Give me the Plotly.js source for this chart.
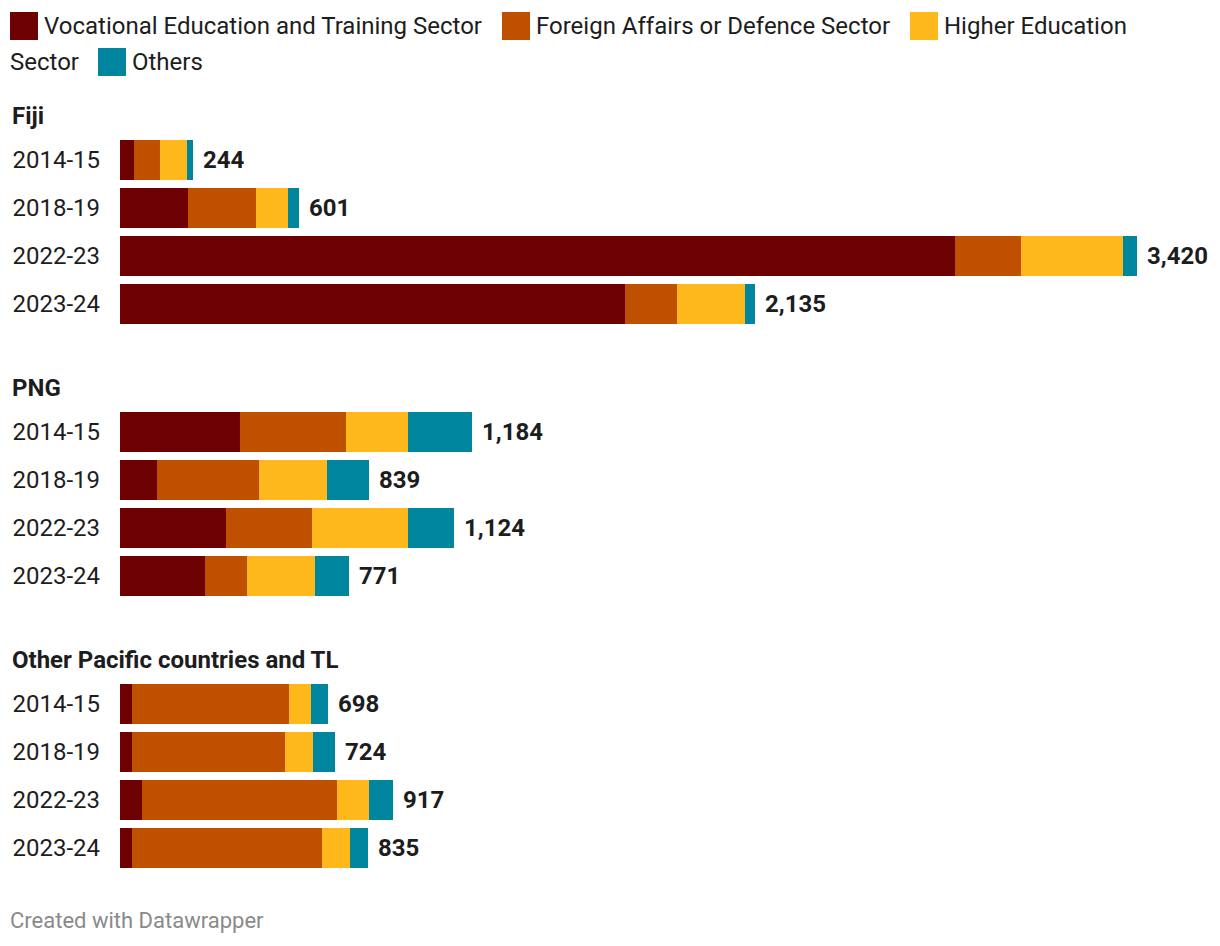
<!DOCTYPE html>
<html>
<head>
<meta charset="utf-8">
<script src="https://cdn.plot.ly/plotly-3.0.1.min.js"></script>
<style>html,body{margin:0;padding:0;background:#fff;}#chart{width:1220px;height:946px;}</style>
</head>
<body>
<div id="chart"></div>
<script>
// ---- data ----
const groups = ['Fiji', 'PNG', 'Other Pacific countries and TL'];
const years = ['2014-15', '2018-19', '2022-23', '2023-24'];
const seriesNames = ['Vocational Education and Training Sector', 'Foreign Affairs or Defence Sector', 'Higher Education Sector', 'Others'];
const vocational = [[48, 229, 2808, 1698], [405, 123, 358, 285], [40, 40, 74, 40]];
const foreignAffairs = [[88, 229, 222, 175], [356, 345, 289, 142], [530, 516, 655, 641]];
const higherEducation = [[88, 108, 343, 228], [208, 229, 322, 230], [74, 94, 107, 94]];
const others = [[20, 35, 47, 34], [215, 142, 155, 114], [54, 74, 81, 60]];

// ---- styling ----
const colors = ['#6d0000', '#bf5000', '#feb81c', '#00859e'];
const W = 1220, H = 946, L = 120;
const px = x => (x - L) / (W - L);
const py = y => 1 - y / H;
const FONT = 'Roboto, "Noto Sans", sans-serif';
const TXT = '#1d1d1d';

const series = [vocational, foreignAffairs, higherEducation, others];
const domainsPx = [[136, 328], [408, 600], [680, 872]];
const headerY = [116, 388, 660];

const traces = [];
const annotations = [];
const shapes = [];
const layout = {
  width: W, height: H,
  margin: {l: L, r: 0, t: 0, b: 0, pad: 0},
  paper_bgcolor: '#fff', plot_bgcolor: '#fff',
  barmode: 'stack', bargap: 8 / 48,
  showlegend: false,
  font: {family: FONT, color: TXT, size: 24},
  annotations: annotations, shapes: shapes
};

groups.forEach((g, gi) => {
  const sfx = gi === 0 ? '' : String(gi + 1);
  const xa = 'x' + sfx, ya = 'y' + sfx;
  series.forEach((s, si) => {
    traces.push({
      type: 'bar', orientation: 'h',
      x: s[gi], y: years,
      xaxis: xa, yaxis: ya,
      name: seriesNames[si],
      marker: {color: colors[si], line: {width: 0}},
      hoverinfo: 'x+name'
    });
  });
  layout['xaxis' + sfx] = {
    domain: [0, 1], range: [0, 3700], anchor: ya,
    visible: false, fixedrange: true
  };
  const d = domainsPx[gi];
  layout['yaxis' + sfx] = {
    domain: [py(d[1]), py(d[0])], anchor: xa,
    type: 'category', categoryorder: 'array', categoryarray: years,
    autorange: 'reversed', showgrid: false, zeroline: false, showline: false,
    ticks: '', ticklabelstandoff: 19,
    tickfont: {family: FONT, size: 24, color: TXT}, fixedrange: true
  };
  // group header
  annotations.push({
    xref: 'paper', yref: 'paper', x: px(10), y: py(headerY[gi]),
    xanchor: 'left', yanchor: 'middle', showarrow: false,
    text: '<b>' + g + '</b>', font: {family: FONT, size: 24, color: TXT}
  });
  // totals
  years.forEach((yr, yi) => {
    const total = series.reduce((acc, s) => acc + s[gi][yi], 0);
    annotations.push({
      xref: xa, yref: ya, x: total, y: yr,
      xanchor: 'left', yanchor: 'middle', showarrow: false, xshift: 8,
      text: '<b>' + total.toLocaleString('en-US') + '</b>',
      font: {family: FONT, size: 24, color: TXT}
    });
  });
});

// ---- legend (manual, datawrapper-style wrapping) ----
const legendFont = {family: FONT, size: 24, color: TXT};
function legendSquare(x0, yc, color) {
  shapes.push({type: 'rect', xref: 'paper', yref: 'paper',
    x0: px(x0), x1: px(x0 + 28), y0: py(yc + 14), y1: py(yc - 14),
    fillcolor: color, line: {width: 0}});
}
function legendText(x, yc, t) {
  annotations.push({xref: 'paper', yref: 'paper', x: px(x), y: py(yc),
    xanchor: 'left', yanchor: 'middle', showarrow: false, text: t, font: legendFont});
}
const l1 = 26, l2 = 62;
legendSquare(10, l1, colors[0]); legendText(42, l1, seriesNames[0]);
legendSquare(502, l1, colors[1]); legendText(534, l1, seriesNames[1]);
const he = seriesNames[2], cut = he.lastIndexOf(' ');
legendSquare(910, l1, colors[2]); legendText(942, l1, he.slice(0, cut));
legendText(8, l2, he.slice(cut + 1));
legendSquare(98, l2, colors[3]); legendText(130, l2, seriesNames[3]);

// footer
annotations.push({xref: 'paper', yref: 'paper', x: px(8), y: py(920),
  xanchor: 'left', yanchor: 'middle', showarrow: false,
  text: 'Created with Datawrapper', font: {family: FONT, size: 22, color: '#8a8a8a'}});

Plotly.newPlot('chart', traces, layout, {displayModeBar: false, staticPlot: true});
</script>
</body>
</html>
